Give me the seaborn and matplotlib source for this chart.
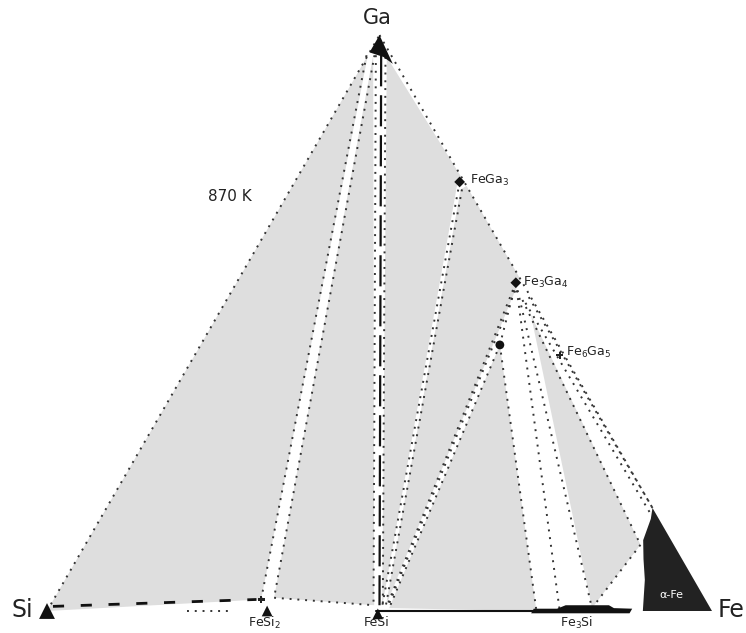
import numpy as np
import pandas as pd
import matplotlib
matplotlib.use("Agg")
import matplotlib.pyplot as plt
import seaborn as sns

sns.set_theme(style="white")
plt.rcParams["font.family"] = ["DejaVu Sans"]

SQ = np.sqrt(3) / 2


def xy(ga, fe):
    """Ternary (Ga, Fe) mole fractions -> Cartesian, Si at origin."""
    ga = np.asarray(ga, float)
    fe = np.asarray(fe, float)
    return fe + ga / 2, ga * SQ


# --- compositions (mole fraction Ga, mole fraction Fe) -----------------
ga_tip_l = (0.965, 0.000)
ga_tip_m = (0.965, 0.008)
ga_tip_c = (0.962, 0.030)
fesi2_l = (0.020, 0.312)
fesi2_r = (0.023, 0.330)
fesi_l = (0.010, 0.487)
fesi_c = (0.008, 0.500)
fesi_r = (0.005, 0.512)
fega3 = (0.745, 0.248)
fega3_b = (0.732, 0.258)
fe3ga4 = (0.570, 0.420)
fe3ga4_b = (0.556, 0.426)
fe6ga5 = (0.444, 0.549)
tau = (0.462, 0.450)
fe3si_l = (0.000, 0.736)
fe3si_m = (0.000, 0.771)
fe3si_r = (0.005, 0.817)
afe_l = (0.115, 0.835)
afe_top = (0.179, 0.821)

# three-phase fields (shaded)
field_A = [(0.0, 0.0), ga_tip_l, fesi2_l]
field_B = [ga_tip_m, fesi2_r, fesi_l]
field_C = [ga_tip_c, fesi_c, (0.745, 0.245), (0.748, 0.252)]
field_D = [(0.732, 0.256), (0.738, 0.262), (0.575, 0.425), fe3ga4_b, (0.009, 0.505)]
field_E = [fesi_r, tau, fe3si_l]
field_F = [(0.515, 0.470), fe3si_r, afe_l]

# single-phase alpha-Fe
afe_ga = [0.000, 0.179, 0.160, 0.123, 0.090, 0.054, 0.000]
afe_fe = [1.000, 0.821, 0.828, 0.835, 0.852, 0.872, 0.896]

# Fe3Si homogeneity band along the Fe-Si edge
fe3si_band_ga = [-0.004, 0.004, 0.004, 0.010, 0.010, 0.005, 0.004, -0.004]
fe3si_band_fe = [0.730, 0.730, 0.765, 0.775, 0.840, 0.850, 0.878, 0.878]

# Ga-rich liquid corner
liq_ga = [1.000, 0.970, 0.962, 0.950]
liq_fe = [0.000, 0.000, 0.025, 0.045]

# phase boundaries (dotted)
dotted = [
    [(0.0, 0.0), (1.0, 0.0)],
    [(1.0, 0.0), afe_top],
    [(0.965, -0.002), fesi2_l],
    [(0.965, 0.010), fesi2_r],
    [(0.965, 0.012), (0.010, 0.486)],
    [(0.962, 0.028), (0.008, 0.501)],
    [fega3, fesi_c],
    [fega3_b, (0.009, 0.505)],
    [fe3ga4, (0.008, 0.507)],
    [fe3ga4_b, (0.007, 0.509)],
    [fe3ga4, tau],
    [tau, fesi_r],
    [tau, fe3si_l],
    [fe3ga4, fe3si_m],
    [fe3ga4, fe3si_r],
    [(0.540, 0.445), afe_l],
    [(0.545, 0.452), afe_top],
    [(0.535, 0.452), (0.170, 0.822)],
    [fe3si_r, afe_l],
    [fesi2_r, fesi_l],
    [(0.0, 0.210), (0.0, 0.275)],
]

# labels
vertex_labels = ["Ga", "Si", "Fe"]
phase_labels = ["FeGa$_3$", "Fe$_3$Ga$_4$", "Fe$_6$Ga$_5$", "FeSi$_2$", "FeSi", "Fe$_3$Si"]
temperature = "870 K"

# --- figure ---------------------------------------------------------------
fig = plt.figure(figsize=(7.46, 6.33), dpi=100)
W, H = 746, 633
x0, x1, ybase = 47, 712, 611
side = x1 - x0
ax = fig.add_axes([x0 / W, (H - ybase) / H, side / W, side * SQ / H])
ax.set_xlim(0, 1)
ax.set_ylim(0, SQ)
ax.set_axis_off()

gray = "#dedede"
for poly in (field_A, field_B, field_C, field_D, field_E, field_F):
    g, f = zip(*poly)
    px, py = xy(g, f)
    ax.fill(px, py, color=gray, lw=0, zorder=1, clip_on=False)

px, py = xy(afe_ga, afe_fe)
ax.fill(px, py, color="#222222", lw=0, zorder=3, clip_on=False)
ax.text(*xy(0.028, 0.925), "α-Fe", color="white", fontsize=8, ha="center", va="center", zorder=4)

px, py = xy(fe3si_band_ga, fe3si_band_fe)
ax.fill(px, py, color="#111111", lw=0, zorder=4, clip_on=False)

px, py = xy(liq_ga, liq_fe)
ax.fill(px, py, color="#111111", lw=0, zorder=4, clip_on=False)

for seg in dotted:
    g, f = zip(*seg)
    px, py = xy(g, f)
    df = pd.DataFrame({"x": px, "y": py})
    sns.lineplot(data=df, x="x", y="y", sort=False, ax=ax, color="#333333",
                 lw=1.4, linestyle=(0, (1, 3)), zorder=2, clip_on=False)

# Ga - FeSi tie line
px, py = xy([0.965, 0.010], [0.020, 0.495])
ax.plot(px, py, color="#111111", lw=1.6, ls=(0, (14, 4)), zorder=2)
# Si - FeSi2 edge
px, py = xy([0.008, 0.020], [0.005, 0.305])
ax.plot(px, py, color="#111111", lw=2.0, ls=(0, (4, 6)), zorder=2)
# FeSi - Fe3Si edge
px, py = xy([0.000, 0.000], [0.495, 0.735])
ax.plot(px, py, color="#111111", lw=1.5, zorder=3, clip_on=False)

# vertex / compound markers
tg, tf = [0, 0, -0.005], [0, 0.331, 0.5]
tri = pd.DataFrame({"x": xy(tg, tf)[0], "y": xy(tg, tf)[1], "s": [130, 60, 60]})
sns.scatterplot(data=tri, x="x", y="y", size="s", sizes=(60, 130), marker="^",
                color="#111111", edgecolor="none", legend=False, ax=ax, zorder=5, clip_on=False)
dg, dfe = [fega3[0], fe3ga4[0]], [fega3[1], fe3ga4[1]]
pts = pd.DataFrame({"x": xy(dg, dfe)[0], "y": xy(dg, dfe)[1]})
sns.scatterplot(data=pts, x="x", y="y", marker="D", s=30, color="#111111",
                edgecolor="none", legend=False, ax=ax, zorder=5)
tau_df = pd.DataFrame({"x": [xy(*tau)[0]], "y": [xy(*tau)[1]]})
sns.scatterplot(data=tau_df, x="x", y="y", marker="o", s=40, color="#111111",
                edgecolor="none", legend=False, ax=ax, zorder=5)
sg, sf = [fe6ga5[0], fesi2_l[0]], [fe6ga5[1], fesi2_l[1]]
small = pd.DataFrame({"x": xy(sg, sf)[0], "y": xy(sg, sf)[1]})
sns.scatterplot(data=small, x="x", y="y", marker="P", s=25, color="#222222",
                edgecolor="none", legend=False, ax=ax, zorder=5)


def pix(px_, py_):
    return ((px_ - x0) / side, (ybase - py_) / side)


ax.text(*pix(377, 18), vertex_labels[0], fontsize=15, ha="center", va="center", color="#222")
ax.text(*pix(22, 610), vertex_labels[1], fontsize=17, ha="center", va="center", color="#222")
ax.text(*pix(731, 610), vertex_labels[2], fontsize=17, ha="center", va="center", color="#222")
ax.text(*pix(230, 196), temperature, fontsize=11, ha="center", va="center", color="#222")
lab_pos = [(470, 180, "left"), (523, 282, "left"), (566, 352, "left"),
           (265, 623, "center"), (377, 623, "center"), (577, 623, "center")]
for (lx, ly, ha), t in zip(lab_pos, phase_labels):
    ax.text(*pix(lx, ly), t, fontsize=9, ha=ha, va="center", color="#222")

fig.savefig("out.png", dpi=100)
